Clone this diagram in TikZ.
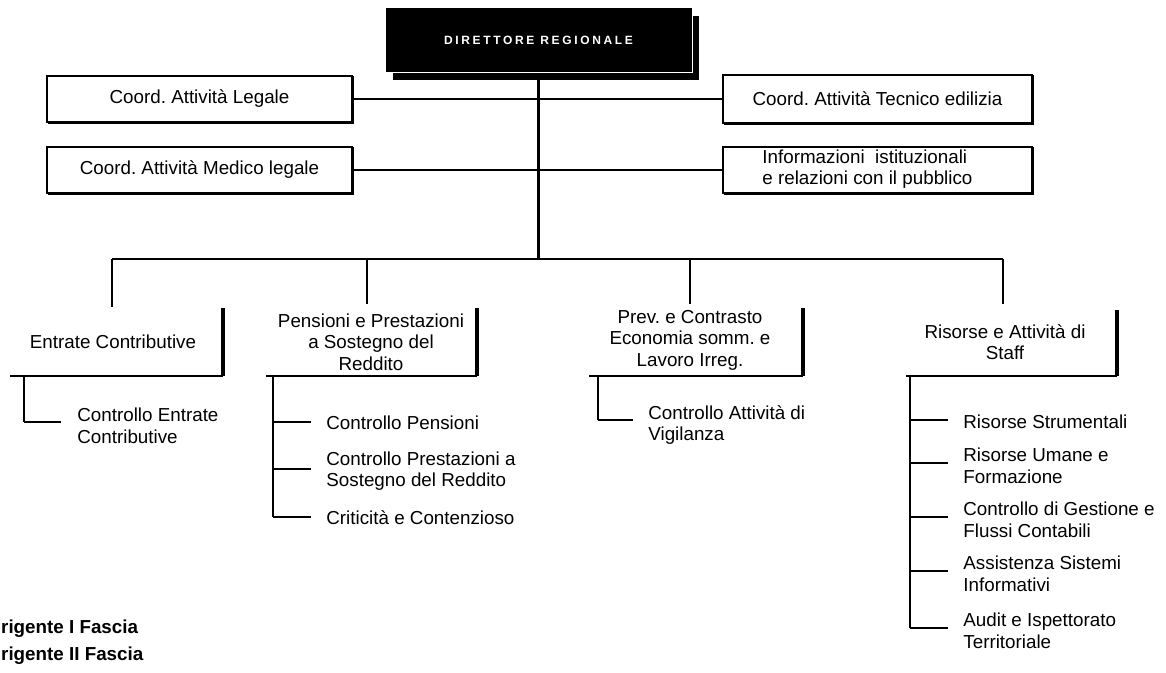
\documentclass[tikz,border=0pt]{standalone}
\usepackage{fontspec}
\setmainfont{Liberation Sans}
\newfontfamily\headfont[LetterSpace=22]{Liberation Sans}
\usetikzlibrary{shadows}
\frenchspacing
\begin{document}
\begin{tikzpicture}[x=0.5pt,y=-0.5pt,
  font=\fontsize{9.4}{10.8}\selectfont,
  headbox/.style={fill=black, draw=white, line width=0.5pt, inner sep=0pt,
    minimum width=153.5pt, minimum height=32.5pt, text=white,
    font=\headfont\bfseries\fontsize{6}{7}\selectfont,
    copy shadow={shadow xshift=3.8pt, shadow yshift=-3.8pt}},
  coordbox/.style={draw, fill=white, line width=0.9pt, inner sep=0pt,
    minimum width=152.5pt, minimum height=23pt,
    copy shadow={shadow xshift=0.7pt, shadow yshift=-0.7pt}},
  unit/.style={align=center, inner sep=0pt},
  sub/.style={anchor=west, align=left, inner sep=0pt},
  legend/.style={inner sep=0pt, font=\bfseries\fontsize{9.4}{10.8}\selectfont},
  rowline/.style={line width=0.9pt},
  trunk/.style={line width=1.1pt},
  busline/.style={line width=1pt},
  branch/.style={line width=0.8pt},
  bracketbase/.style={line width=0.8pt},
  bracketside/.style={line width=1.8pt},
  stem/.style={line width=1.2pt},
  tick/.style={line width=0.9pt}]

\path[use as bounding box, clip] (0,0) rectangle (1166,673);

% head of the office
\node[headbox] (dir) at (538.5,40.5) {DIRETTORE REGIONALE};

% staff coordinators
\node[coordbox] (legale) at (199.5,99) {Coord. Attività Legale};
\node[coordbox] (medico) at (199.5,170) {Coord. Attività Medico legale};
\node[coordbox, minimum width=154.5pt, minimum height=24pt] (tecnico) at (877.5,99) {Coord. Attività Tecnico edilizia};
\node[coordbox, minimum width=154.5pt] (urp) at (877.5,170) {};
\node[sub] (urptext) at (762,169) {Informazioni\ \ istituzionali\\e relazioni con il pubblico};

\draw[rowline] (legale.east) -- (tecnico.west);
\draw[rowline] (medico.east) -- (urp.west);

% trunk and bus
\coordinate (bus) at (538.5,259);
\coordinate (j1) at (112,259);
\coordinate (j2) at (367,259);
\coordinate (j3) at (690,259);
\coordinate (j4) at (1003,259);
\draw[trunk] (dir.south) -- (bus);
\draw[busline] (j1) -- (j4);

% operating units
\node[unit] (ent) at (113,342) {Entrate Contributive};
\node[unit] (pen) at (371,342) {Pensioni e Prestazioni\\a Sostegno del\\Reddito};
\node[unit] (prev) at (690,340) {Prev. e Contrasto\\Economia somm. e\\Lavoro Irreg.};
\node[unit] (ris) at (1005,342) {Risorse e Attività di\\Staff};

\coordinate (e0) at (112,307);
\coordinate (p0) at (367,304);
\coordinate (v0) at (690,304);
\coordinate (r0) at (1003,304);
\draw[branch] (j1) -- (e0);
\draw[branch] (j2) -- (p0);
\draw[branch] (j3) -- (v0);
\draw[branch] (j4) -- (r0);

% unit brackets
\coordinate (eBL) at (10,376);  \coordinate (eBR) at (223,376);  \coordinate (eTR) at (223,308);
\coordinate (pBL) at (266,376); \coordinate (pBR) at (477,376);  \coordinate (pTR) at (477,308);
\coordinate (vBL) at (589,376); \coordinate (vBR) at (803,376);  \coordinate (vTR) at (803,308);
\coordinate (rBL) at (906,376); \coordinate (rBR) at (1117,376); \coordinate (rTR) at (1117,310);
\foreach \u in {e,p,v,r}{
  \draw[bracketbase] (\u BL) -- (\u BR);
  \draw[bracketside] (\u BR) -- (\u TR);
}

% sub-offices
\node[sub] (cEnt) at (77,426) {Controllo Entrate\\Contributive};

\node[sub] (cPen) at (326,423) {Controllo Pensioni};
\node[sub] (cPres) at (326,471) {Controllo Prestazioni a\\Sostegno del Reddito};
\node[sub] (cCrit) at (326,518) {Criticità e Contenzioso};

\node[sub] (cVig) at (648,425) {Controllo Attività di\\Vigilanza};

\node[sub] (rStr) at (963,422) {Risorse Strumentali};
\node[sub] (rUm) at (963,466) {Risorse Umane e\\Formazione};
\node[sub] (rGes) at (963,520) {Controllo di Gestione e\\Flussi Contabili};
\node[sub] (rSis) at (963,574) {Assistenza Sistemi\\Informativi};
\node[sub] (rAud) at (963,631) {Audit e Ispettorato\\Territoriale};

% stems
\coordinate (eS) at (24,376);  \coordinate (eK1) at (24,422);
\coordinate (pS) at (273,376); \coordinate (pK1) at (273,422); \coordinate (pK2) at (273,469); \coordinate (pK3) at (273,517);
\coordinate (vS) at (598,376); \coordinate (vK1) at (598,420);
\coordinate (rS) at (910,376); \coordinate (rK1) at (910,420); \coordinate (rK2) at (910,463);
\coordinate (rK3) at (910,517); \coordinate (rK4) at (910,571); \coordinate (rK5) at (910,628);

\draw[stem] (eS) -- (eK1);
\draw[stem] (pS) -- (pK3);
\draw[stem] (vS) -- (vK1);
\draw[stem] (rS) -- (rK5);

\draw[tick] (eK1) -- ([xshift=-8pt]cEnt.west |- eK1);
\draw[tick] (pK1) -- ([xshift=-7.5pt]cPen.west |- pK1);
\draw[tick] (pK2) -- ([xshift=-7.5pt]cPres.west |- pK2);
\draw[tick] (pK3) -- ([xshift=-7.5pt]cCrit.west |- pK3);
\draw[tick] (vK1) -- ([xshift=-7.5pt]cVig.west |- vK1);
\draw[tick] (rK1) -- ([xshift=-7.5pt]rStr.west |- rK1);
\draw[tick] (rK2) -- ([xshift=-7.5pt]rUm.west |- rK2);
\draw[tick] (rK3) -- ([xshift=-7.5pt]rGes.west |- rK3);
\draw[tick] (rK4) -- ([xshift=-7.5pt]rSis.west |- rK4);
\draw[tick] (rK5) -- ([xshift=-7.5pt]rAud.west |- rK5);

% legend, running off the left edge of the sheet
\node[legend, anchor=base west] (lg1) at (-18,633) {Dirigente I Fascia};
\node[legend, anchor=base west] (lg2) at (-18,660) {Dirigente II Fascia};
\end{tikzpicture}
\end{document}
